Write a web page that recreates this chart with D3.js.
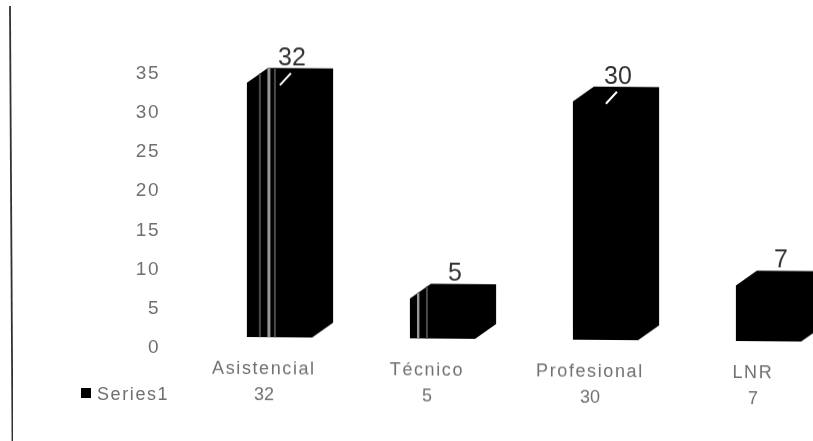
<!DOCTYPE html>
<html><head><meta charset="utf-8">
<script src="https://cdn.jsdelivr.net/npm/d3@7/dist/d3.min.js"></script>
<style>html,body{margin:0;background:#fff}svg{display:block}text{font-family:"Liberation Sans",Arial,sans-serif}</style>
</head><body><svg id="c" width="813" height="441"></svg>
<script>
const categories = ["Asistencial","Técnico","Profesional","LNR"];
const values = [32,5,30,7];
const tableLabels = ["32","5","30","7"];
const yTicks = [0,5,10,15,20,25,30,35];
const seriesName = "Series1";
const stripedBars = {Asistencial:[13,22,28], "Técnico":[8,17]};
const notchedBars = ["Asistencial","Profesional"];

const svg = d3.select("#c");
const defs = svg.append("defs");
defs.append("filter").attr("id","scan").append("feGaussianBlur").attr("stdDeviation",0.5);
defs.append("filter").attr("id","soft").append("feGaussianBlur").attr("stdDeviation",0.4);

const x = d3.scaleBand().domain(categories).range([198,850]).paddingInner(0.6).paddingOuter(0.3);
const y = d3.scaleLinear().domain([0,35]).range([337,59]);
const axisY = d3.scaleLinear().domain([0,35]).range([346,72]);
const dx = 21, dy = 15;
const textGrey = "#707070";

svg.append("line").attr("x1",10).attr("x2",12.5).attr("y1",6).attr("y2",441)
  .attr("stroke","#333").attr("stroke-width",1.8).attr("filter","url(#soft)");

const axisG = svg.append("g").attr("filter","url(#scan)");
axisG.selectAll("text").data(yTicks).join("text")
  .attr("x",160).attr("y",d=>axisY(d)+7).attr("text-anchor","end")
  .attr("font-size",19).attr("letter-spacing",1.5).attr("fill",textGrey).text(d=>d);

const g = svg.append("g").attr("transform","translate(247,337) skewY(0.47) translate(-247,-337)");
const bars = g.selectAll("g.bar").data(categories.map((c,i)=>({c,v:values[i],t:tableLabels[i]}))).join("g").attr("class","bar");

bars.append("path").attr("fill","#000").attr("filter","url(#soft)").attr("d",d=>{
  const l=x(d.c), r=l+x.bandwidth(), t=y(d.v), b=y(0);
  const p=d3.path();
  p.moveTo(l,b); p.lineTo(l,t); p.lineTo(l+dx,t-dy); p.lineTo(r+dx,t-dy);
  p.lineTo(r+dx,b-dy); p.lineTo(r,b); p.closePath();
  return p.toString();
});
const overlays = bars.append("g").attr("filter","url(#soft)");
overlays.each(function(d){
  const sel=d3.select(this), l=x(d.c);
  (stripedBars[d.c]||[]).forEach(o=>{
    const top = y(d.v) - Math.min(o,dx)*dy/dx;
    const bright = (o===22||o===8);
    sel.append("line").attr("x1",l+o).attr("x2",l+o).attr("y1",top).attr("y2",y(0))
      .attr("stroke",bright?"#999":"#4a4a4a").attr("stroke-width",bright?3:2);
  });
  if(notchedBars.includes(d.c)){
    sel.append("line").attr("x1",l+33).attr("x2",l+44)
      .attr("y1",y(d.v)+2).attr("y2",y(d.v)-10)
      .attr("stroke","#fff").attr("stroke-width",2);
  }
});
bars.append("text").attr("x",d=>x(d.c)+45).attr("y",d=>y(d.v)-dy-3)
  .attr("text-anchor","middle").attr("font-size",25).attr("fill","#333").attr("filter","url(#soft)").text(d=>d.v);
const tableG = g.append("g").attr("filter","url(#scan)");
tableG.selectAll("text.cat").data(categories).join("text").attr("class","cat")
  .attr("x",d=>x(d)+17).attr("y",374).attr("text-anchor","middle")
  .attr("font-size",18).attr("letter-spacing",1.6).attr("fill",textGrey).text(d=>d);
tableG.selectAll("text.val").data(tableLabels).join("text").attr("class","val")
  .attr("x",(d,i)=>x(categories[i])+17).attr("y",400).attr("text-anchor","middle")
  .attr("font-size",18).attr("fill",textGrey).text(d=>d);

const leg = svg.append("g").attr("filter","url(#scan)");
leg.append("rect").attr("x",81).attr("y",388).attr("width",10).attr("height",10).attr("fill","#000");
leg.append("text").attr("x",97).attr("y",400).attr("font-size",18).attr("letter-spacing",1.6).attr("fill",textGrey).text(seriesName);
</script></body></html>
